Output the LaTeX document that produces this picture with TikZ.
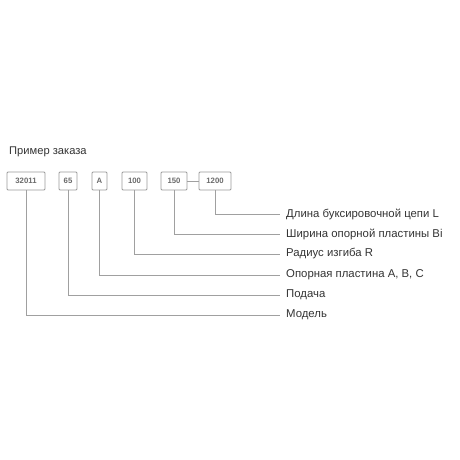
\documentclass[tikz,border=0pt]{standalone}
\usepackage{fontspec}
\setmainfont{Liberation Sans}
\definecolor{boxgray}{HTML}{9A9A9A}
\definecolor{numgray}{HTML}{6A6A6A}
\definecolor{linegray}{HTML}{A0A0A0}
\definecolor{txt}{HTML}{333333}
\begin{document}
\begin{tikzpicture}[x=1bp,y=-1bp,
  codebox/.style={draw=boxgray,line width=0.9bp,rounded corners=1bp,minimum height=18bp,inner sep=0pt,
    font=\fontsize{7.8}{9}\selectfont\bfseries,text=numgray},
  lbl/.style={anchor=west,inner xsep=6bp,inner ysep=0pt,font=\fontsize{11.4}{13}\selectfont,text=txt},
  conn/.style={draw=linegray,line width=0.9bp}]
\useasboundingbox (0,0) rectangle (460,460);
\node[anchor=west,inner sep=0pt,font=\fontsize{11.2}{13}\selectfont,text=txt] (title) at (9,152) {Пример заказа};
\node[codebox,minimum width=38bp] (b1) at (26,181) {32011};
\node[codebox,minimum width=18bp] (b2) at (68,181) {65};
\node[codebox,minimum width=15bp] (b3) at (99.5,181) {A};
\node[codebox,minimum width=25bp] (b4) at (134.5,181) {100};
\node[codebox,minimum width=26bp] (b5) at (174,181) {150};
\node[codebox,minimum width=32bp] (b6) at (215,181) {1200};
\node[lbl] (l6) at (280,214) {Длина буксировочной цепи L};
\node[lbl] (l5) at (280,234) {Ширина опорной пластины Bi};
\node[lbl] (l4) at (280,254) {Радиус изгиба R};
\node[lbl] (l3) at (280,275) {Опорная пластина A, B, C};
\node[lbl] (l2) at (280,295) {Подача};
\node[lbl] (l1) at (280,315) {Модель};
\draw[conn] (b5) -- (b6);
\draw[conn] (b6.south) |- (l6.west);
\draw[conn] (b5.south) |- (l5.west);
\draw[conn] (b4.south) |- (l4.west);
\draw[conn] (b3.south) |- (l3.west);
\draw[conn] (b2.south) |- (l2.west);
\draw[conn] (b1.south) |- (l1.west);
\end{tikzpicture}
\end{document}
